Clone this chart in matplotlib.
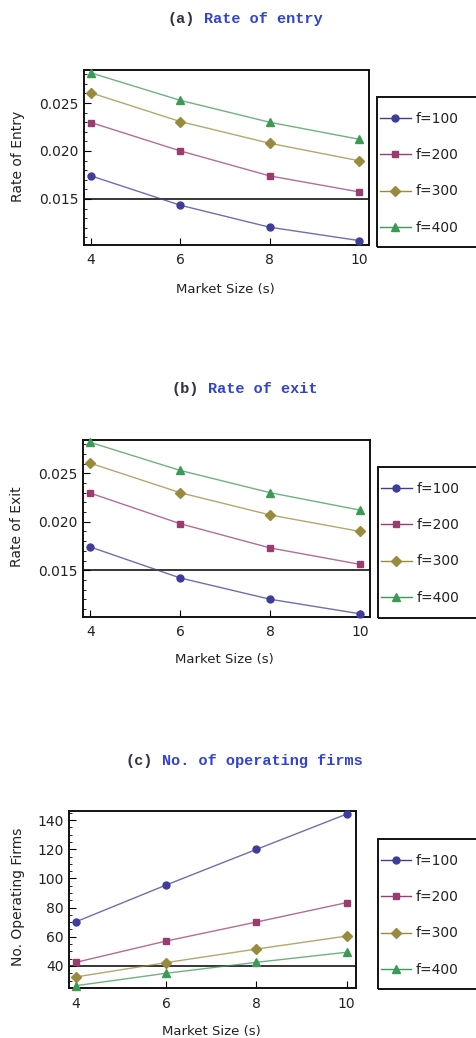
import matplotlib
matplotlib.use("Agg")
import matplotlib.pyplot as plt
from matplotlib.patches import Rectangle
from matplotlib.ticker import MultipleLocator, FormatStrFormatter

# ---------------- data ----------------
market_size = [4, 6, 8, 10]
series_labels = ["f=100", "f=200", "f=300", "f=400"]

entry_f100 = [0.0174, 0.01434, 0.01205, 0.01066]
entry_f200 = [0.02296, 0.0200, 0.0174, 0.01573]
entry_f300 = [0.02605, 0.02306, 0.0208, 0.01898]
entry_f400 = [0.02813, 0.02527, 0.02299, 0.02122]

exit_f100 = [0.0174, 0.0142, 0.0120, 0.0105]
exit_f200 = [0.02296, 0.0198, 0.0173, 0.0156]
exit_f300 = [0.02605, 0.0230, 0.0207, 0.0190]
exit_f400 = [0.0282, 0.0253, 0.0230, 0.0212]

firms_f100 = [70.3, 95.5, 119.9, 144.1]
firms_f200 = [42.5, 57.1, 70.1, 83.4]
firms_f300 = [32.5, 42.3, 51.6, 60.5]
firms_f400 = [26.5, 35.0, 42.5, 49.4]

y_ticks_rate = [0.015, 0.020, 0.025]
y_ticks_firms = [40, 60, 80, 100, 120, 140]
x_ticks = [4, 6, 8, 10]

# ---------------- style ----------------
W, H = 476, 1038
colors = ["#3f3d99", "#993d71", "#998b3d", "#3d9956"]
markers = ["o", "s", "D", "^"]
msizes = [5, 5, 4.6, 5.4]
blue_title = "#3344cc"
gray_title = "#333344"
plt.rcParams["font.family"] = ["DejaVu Sans"]

fig = plt.figure(figsize=(W / 100, H / 100), dpi=100)


def fx(px):
    return px / W


def fy(py):
    return 1 - py / H


def panel(box, ydata, ylim, xlim, yticks, yminor, yfmt, axline, ylabel,
          ylabel_pos, xlabel_pos, title_prefix, title_rest, title_y,
          legend_box, legend_top):
    left, top, right, bottom = box
    ax = fig.add_axes([fx(left), fy(bottom), fx(right - left), (bottom - top) / H])
    handles = []
    for ys, c, m, ms, lab in zip(ydata, colors, markers, msizes, series_labels):
        ax.plot(market_size, ys, color=c, lw=1.0, alpha=0.75, zorder=3)
        ax.plot(market_size, ys, ls="none", marker=m, ms=ms, color=c,
                mec=c, zorder=4, clip_on=False)
        h, = ax.plot([], [], color=c, lw=1.0, marker=m, ms=ms, mec=c)
        handles.append(h)
    ax.axhline(axline, color="black", lw=1.1, zorder=2)
    ax.set_xlim(*xlim)
    ax.set_ylim(*ylim)
    ax.set_xticks(x_ticks)
    ax.set_yticks(yticks)
    ax.yaxis.set_minor_locator(MultipleLocator(yminor))
    ax.yaxis.set_major_formatter(FormatStrFormatter(yfmt))
    ax.tick_params(axis="both", which="both", direction="in",
                   top=False, right=False, labelsize=10, colors="black",
                   labelcolor="#222222")
    ax.tick_params(axis="y", which="major", length=5, width=0.8, pad=4)
    ax.tick_params(axis="y", which="minor", length=2.5, width=0.6)
    ax.tick_params(axis="x", which="major", length=5, width=0.8, pad=6)
    for s in ax.spines.values():
        s.set_linewidth(1.4)
        s.set_color("#111111")
    # labels
    fig.text(fx(ylabel_pos[0]), fy(ylabel_pos[1]), ylabel, rotation=90,
             ha="center", va="center", fontsize=10, color="#222222")
    fig.text(fx(xlabel_pos[0]), fy(xlabel_pos[1]), "Market Size (s)",
             ha="center", va="center", fontsize=9.5, color="#222222")
    # title (monospace, two colours)
    fs = 11
    char_px = 0.6 * fs * 100 / 72
    full = title_prefix + " " + title_rest
    x0 = 245 - len(full) * char_px / 2
    fig.text(fx(x0), fy(title_y), title_prefix, ha="left", va="center",
             fontsize=fs, family="Liberation Mono", weight="bold",
             color=gray_title)
    fig.text(fx(x0 + (len(title_prefix) + 1) * char_px), fy(title_y),
             title_rest, ha="left", va="center", fontsize=fs,
             family="Liberation Mono", weight="bold", color=blue_title)
    # legend
    lx, ly_top, ly_bot = legend_box
    fig.patches.append(Rectangle((fx(lx), fy(ly_bot)), 0.3,
                                 (ly_bot - ly_top) / H,
                                 transform=fig.transFigure, fill=False,
                                 lw=1.4, ec="#111111", clip_on=False))
    fig.legend(handles=handles, labels=series_labels, loc="upper left",
               bbox_to_anchor=(fx(lx + 3), fy(legend_top)),
               bbox_transform=fig.transFigure, frameon=False, fontsize=10,
               borderaxespad=0, borderpad=0, labelspacing=1.6,
               handlelength=2.2, handletextpad=0.35, labelcolor="#222222")
    return ax


panel((84, 70, 369, 245),
      [entry_f100, entry_f200, entry_f300, entry_f400],
      (0.0102, 0.02844), (3.84, 10.22), y_ticks_rate, 0.001, "%.3f", 0.015,
      "Rate of Entry", (18, 156), (225, 289), "(a)", "Rate of entry", 19,
      (377, 97, 247), 112)

panel((83, 440, 370, 616.7),
      [exit_f100, exit_f200, exit_f300, exit_f400],
      (0.0102, 0.02844), (3.84, 10.22), y_ticks_rate, 0.001, "%.3f", 0.015,
      "Rate of Exit", (17, 527), (224, 660), "(b)", "Rate of exit", 389,
      (378, 467, 618), 482)

panel((69, 811, 355.7, 988.3),
      [firms_f100, firms_f200, firms_f300, firms_f400],
      (24.7, 146.2), (3.845, 10.2), y_ticks_firms, 5, "%d", 40,
      "No. Operating Firms", (18, 897), (211, 1032), "(c)",
      "No. of operating firms", 761, (377.7, 839, 989), 854)

fig.savefig("out.png", dpi=100)
